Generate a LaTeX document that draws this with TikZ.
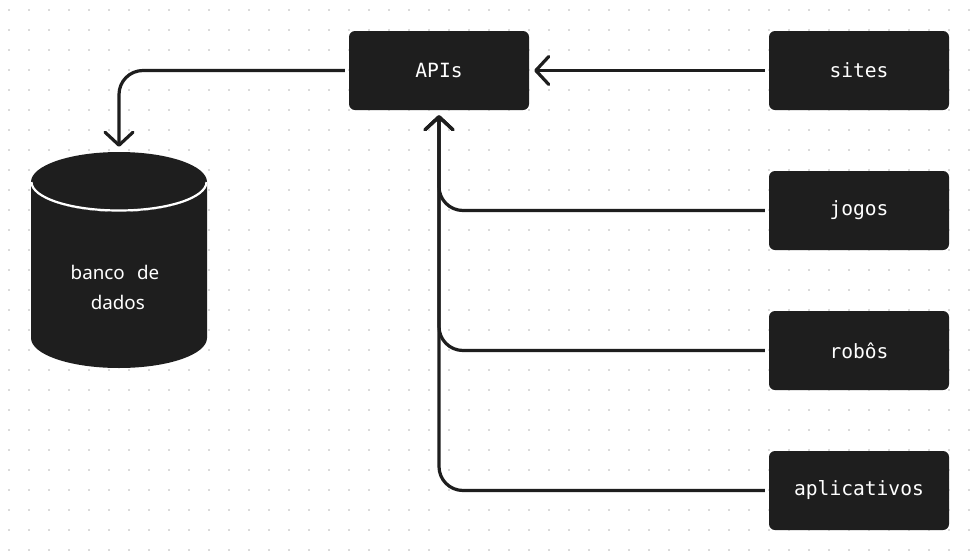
\documentclass[tikz,border=0pt]{standalone}
\usepackage{fontspec}
\usetikzlibrary{arrows.meta}
\newfontfamily\boxfont{DejaVu Sans Mono}
\newfontfamily\dbfont{Noto Sans}
\definecolor{ink}{HTML}{1E1E1E}
\definecolor{dotc}{HTML}{DADADA}
\tikzset{
  srcbox/.style={fill=ink, rounded corners=6pt, minimum width=180pt, minimum height=79pt,
    inner sep=0pt, text=white, font=\boxfont\fontsize{19.6}{22}\selectfont},
  conn/.style={draw=ink, line width=3.2pt, rounded corners=24pt, shorten <=4pt, shorten >=5pt,
    -{Straight Barb[length=13pt,width=28pt,round]}}
}
\begin{document}
\begin{tikzpicture}[x=1pt,y=-1pt]
\useasboundingbox (0,0) rectangle (978,555);
\fill[white] (0,0) rectangle (978,555);
\foreach \x in {9,29,...,969} \foreach \y in {10,30,...,550} \fill[dotc] (\x-1,\y-1) rectangle +(2,2);
% boxes
\node[srcbox] (apis) at (439,70.5) {APIs};
\node[srcbox] (sites) at (859,70.5) {sites};
\node[srcbox] (jogos) at (859,210.5) {jogos};
\node[srcbox] (robos) at (859,350.5) {robôs};
\node[srcbox] (apps) at (859,490.5) {aplicativos};
% database cylinder
\node[minimum width=176pt, minimum height=216pt, inner sep=0pt] (db) at (119,260) {};
\fill[ink] (31,182) arc[start angle=180, end angle=360, x radius=88, y radius=-30]
  -- (207,338) arc[start angle=0, end angle=-180, x radius=88, y radius=-30] -- cycle;
\fill[ink] (119,182) ellipse[x radius=88, y radius=30];
\draw[white, line width=2.2pt] (31.5,182) arc[start angle=180, end angle=360, x radius=87.5, y radius=-28.5];
\node[text=white, font=\dbfont\fontsize{18.8}{30}\selectfont, align=center] at (115,287) {banco\hspace{0.65em}de\\ \hspace{0.3em}dados};
% connectors
\draw[conn] (apis.west) -| (db.north);
\draw[conn] (sites.west) -- (apis.east);
\draw[conn] (jogos.west) -| (apis.south);
\draw[conn] (robos.west) -| (apis.south);
\draw[conn] (apps.west) -| (apis.south);
\end{tikzpicture}
\end{document}
